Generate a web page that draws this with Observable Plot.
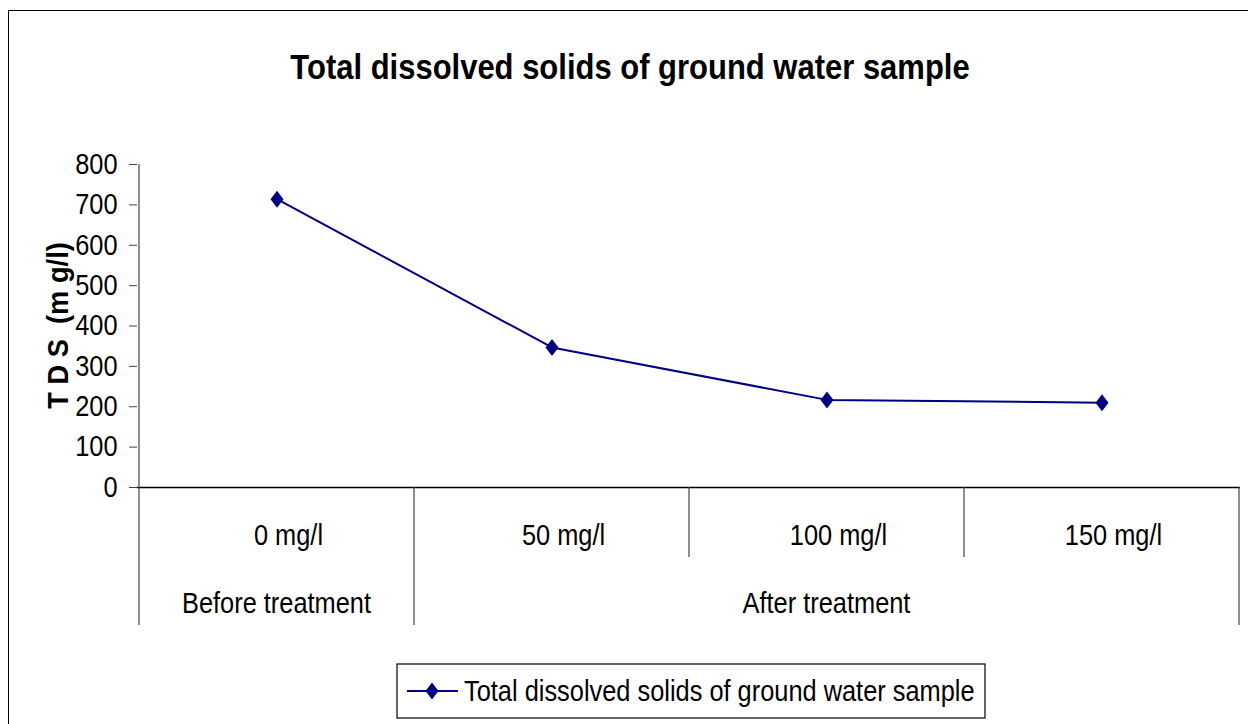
<!DOCTYPE html>
<html><head><meta charset="utf-8">
<script src="https://cdn.jsdelivr.net/npm/d3@7"></script>
<script src="https://cdn.jsdelivr.net/npm/@observablehq/plot@0.6"></script>
<style>
body{margin:0;background:#fff;}
#wrap{position:relative;width:1248px;height:724px;overflow:hidden;color:#000;}
#border{position:absolute;left:8px;top:10px;width:1260px;height:740px;border:1.5px solid #000;box-sizing:border-box;}
#chart{position:absolute;left:0;top:0;}
</style>
</head><body>
<div id="wrap">
  <div id="border"></div>
  <div id="chart"></div>
</div>
<script>
const titleText = "Total dissolved solids of ground water sample";
const seriesName = "Total dissolved solids of ground water sample";
const yLabel = "T D S  (m g/l)";
const categories = ["0 mg/l", "50 mg/l", "100 mg/l", "150 mg/l"];
const groups = ["Before treatment", "After treatment", "After treatment", "After treatment"];
const tdsValues = [714, 347, 217, 210];
const yTicks = [0, 100, 200, 300, 400, 500, 600, 700, 800];

const FONT = '"Liberation Sans",Arial,sans-serif';
const FS = 29;          // font size
const NARROW = 0.875;   // horizontal compression to mimic a narrow face
const LINE = "#000080";

const data = categories.map((c, i) => ({cat: c, group: groups[i], tds: tdsValues[i]}));

const diamond = {draw(ctx) { ctx.moveTo(0, -8.5); ctx.lineTo(6.5, 0); ctx.lineTo(0, 8.5); ctx.lineTo(-6.5, 0); ctx.closePath(); }};

const plot = Plot.plot({
  width: 1248, height: 724,
  marginLeft: 137, marginRight: 8, marginTop: 164, marginBottom: 237,
  style: {background: "transparent", fontFamily: FONT, fontSize: FS + "px", color: "#000", overflow: "visible"},
  x: {type: "band", domain: categories, padding: 0, axis: null},
  y: {domain: [0, 800], axis: null},
  marks: [
    Plot.axisY({ticks: yTicks, tickSize: 8, tickPadding: 12, label: null, fontSize: FS, stroke: "#444", fill: "#000"}),
    Plot.ruleY([0], {stroke: "#000", strokeWidth: 1.5}),
    Plot.line(data, {x: "cat", y: "tds", stroke: LINE, strokeWidth: 2}),
    Plot.dot(data, {x: "cat", y: "tds", symbol: diamond, fill: LINE, stroke: "none"})
  ]
});
document.getElementById("chart").appendChild(plot);

const xs = plot.scale("x"), ys = plot.scale("y");
const bw = xs.bandwidth;
const y0 = ys.apply(0), yTop = ys.apply(d3.max(yTicks));
const catRowBottom = y0 + 70, groupRowBottom = y0 + 138;
const svg = d3.select(plot);

// title
svg.append("text").attr("x", 630).attr("y", 79).attr("text-anchor", "middle")
  .attr("font-family", FONT).attr("font-weight", "bold").attr("font-size", 35).attr("fill", "#000")
  .attr("data-k", 0.885).text(titleText);

// hierarchical category axis
const g = svg.append("g").attr("stroke", "#444").attr("stroke-width", 1.2);
g.append("line").attr("x1", xs.apply(categories[0])).attr("x2", xs.apply(categories[0])).attr("y1", yTop).attr("y2", groupRowBottom);
categories.forEach((c, i) => {
  if (i === 0) return;
  const x = xs.apply(c);
  const boundary = groups[i] !== groups[i - 1];
  g.append("line").attr("x1", x).attr("x2", x).attr("y1", y0).attr("y2", boundary ? groupRowBottom : catRowBottom);
});
const xEnd = xs.apply(categories[categories.length - 1]) + bw;
g.append("line").attr("x1", xEnd).attr("x2", xEnd).attr("y1", y0).attr("y2", groupRowBottom);

const tg = svg.append("g").attr("font-family", FONT).attr("font-size", FS).attr("fill", "#000").attr("text-anchor", "middle");
categories.forEach(c => {
  tg.append("text").attr("x", xs.apply(c) + bw / 2 + 12).attr("y", y0 + 58).text(c);
});
[...new Set(groups)].forEach(gr => {
  const cs = categories.filter((c, i) => groups[i] === gr);
  const cx = d3.mean(cs, c => xs.apply(c) + bw / 2);
  tg.append("text").attr("x", cx).attr("y", y0 + 126).text(gr);
});

// y axis label
svg.append("text").attr("transform", `translate(68,${(y0 + yTop) / 2}) rotate(-90)`)
  .attr("text-anchor", "middle").attr("font-family", FONT).attr("font-weight", "bold").attr("font-size", FS)
  .attr("fill", "#000").attr("data-k", 0.94).style("white-space", "pre").text(yLabel);

// legend
const lg = svg.append("g");
lg.append("rect").attr("x", 397).attr("y", 664).attr("width", 588).attr("height", 54)
  .attr("fill", "#fff").attr("stroke", "#000").attr("stroke-width", 1.2);
lg.append("line").attr("x1", 407).attr("x2", 458).attr("y1", 691).attr("y2", 691).attr("stroke", LINE).attr("stroke-width", 2);
const dp = d3.path(); diamond.draw(dp);
lg.append("path").attr("transform", "translate(432,691)").attr("d", dp.toString()).attr("fill", LINE);
lg.append("text").attr("x", 464).attr("y", 701).attr("text-anchor", "start").attr("font-family", FONT)
  .attr("font-size", FS).attr("fill", "#000").text(seriesName);

// compress every text horizontally
svg.selectAll("text").each(function() {
  const k = +this.getAttribute("data-k") || NARROW;
  const w = this.getComputedTextLength();
  if (w > 0) {
    this.setAttribute("textLength", w * k);
    this.setAttribute("lengthAdjust", "spacingAndGlyphs");
  }
});
</script>
</body></html>
